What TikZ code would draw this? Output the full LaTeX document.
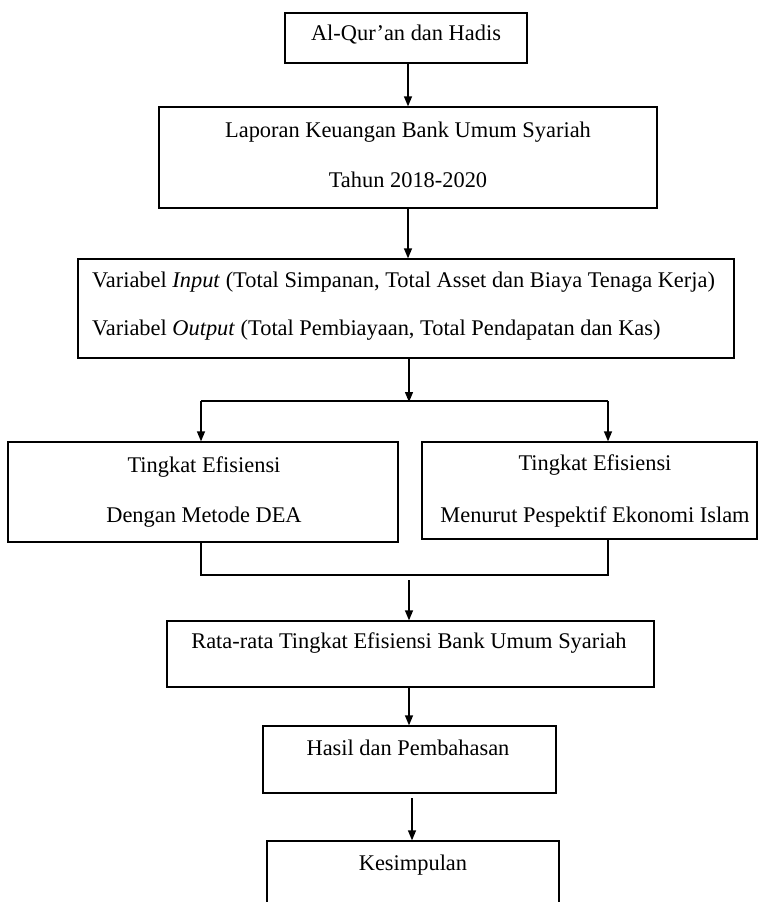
\documentclass[tikz,border=0pt]{standalone}
\usepackage{fontspec}
\setmainfont{Liberation Serif}
\usetikzlibrary{arrows.meta}
\begin{document}
\begin{tikzpicture}[x=1pt,y=-1pt,
  every node/.style={font=\fontsize{22.4pt}{26pt}\selectfont},
  boxnode/.style={draw, line width=1.3pt, rectangle, inner sep=0pt},
  txt/.style={inner sep=0pt, anchor=base},
  lnk/.style={line width=1.3pt},
  arr/.style={line width=1.3pt, -{Triangle[length=10pt,width=8pt]}}]
\clip (0,0) rectangle (759,902);
\fill[white] (0,0) rectangle (759,902);
% boxes
\node[boxnode, minimum width=242pt, minimum height=50pt] (b1) at (406,38) {};
\node[boxnode, minimum width=498pt, minimum height=101pt] (b2) at (408,157.5) {};
\node[boxnode, minimum width=656pt, minimum height=99pt] (b3) at (406,308.5) {};
\node[boxnode, minimum width=390pt, minimum height=100pt] (bl) at (203,492) {};
\node[boxnode, minimum width=335pt, minimum height=97pt] (br) at (589.5,490.5) {};
\node[boxnode, minimum width=487pt, minimum height=66pt] (rata) at (410.5,654) {};
\node[boxnode, minimum width=293pt, minimum height=67pt] (hasil) at (409.5,759.5) {};
\node[boxnode, minimum width=292pt, minimum height=90pt] (kes) at (413,886) {};
% texts
\node[txt] (t1) at (406,40) {Al-Qur’an dan Hadis};
\node[txt] (t2a) at (408,137) {Laporan Keuangan Bank Umum Syariah};
\node[txt] (t2b) at (408,187) {Tahun 2018-2020};
\node[txt, anchor=base west] (t3a) at (92,287) {Variabel \textit{Input} (Total Simpanan, Total Asset dan Biaya Tenaga Kerja)};
\node[txt, anchor=base west] (t3b) at (92,335) {Variabel \textit{Output} (Total Pembiayaan, Total Pendapatan dan Kas)};
\node[txt] (tla) at (204,472) {Tingkat Efisiensi};
\node[txt] (tlb) at (204,522) {Dengan Metode DEA};
\node[txt] (tra) at (595,470) {Tingkat Efisiensi};
\node[txt] (trb) at (595,522) {Menurut Pespektif Ekonomi Islam};
\node[txt] (trata) at (409,648) {Rata-rata Tingkat Efisiensi Bank Umum Syariah};
\node[txt] (thasil) at (408,755) {Hasil dan Pembahasan};
\node[txt] (tkes) at (413,870) {Kesimpulan};
% coordinates
\coordinate (a1) at (408,0);
\coordinate (split) at (409,401);
\coordinate (splitL) at (201,401);
\coordinate (splitR) at (608,401);
\coordinate (joinL) at (201,575);
\coordinate (joinR) at (608,575);
\coordinate (joinA) at (409,580);
\coordinate (a5) at (409,0);
\coordinate (a6) at (412,798);
% connectors
\draw[arr] (b1.south -| a1) -- (b2.north -| a1);
\draw[arr] (b2.south -| a1) -- (b3.north -| a1);
\draw[arr] (b3.south -| split) -- ([yshift=-1pt]split);
\draw[lnk] (splitL) -- (splitR);
\draw[arr] (splitL) -- (splitL |- bl.north);
\draw[arr] (splitR) -- (splitR |- br.north);
\draw[lnk] (joinL |- bl.south) -- (joinL) -- (joinR) -- (joinR |- br.south);
\draw[arr] (joinA) -- (joinA |- rata.north);
\draw[arr] (rata.south -| a5) -- (hasil.north -| a5);
\draw[arr] (a6) -- (a6 |- kes.north);
\end{tikzpicture}
\end{document}
